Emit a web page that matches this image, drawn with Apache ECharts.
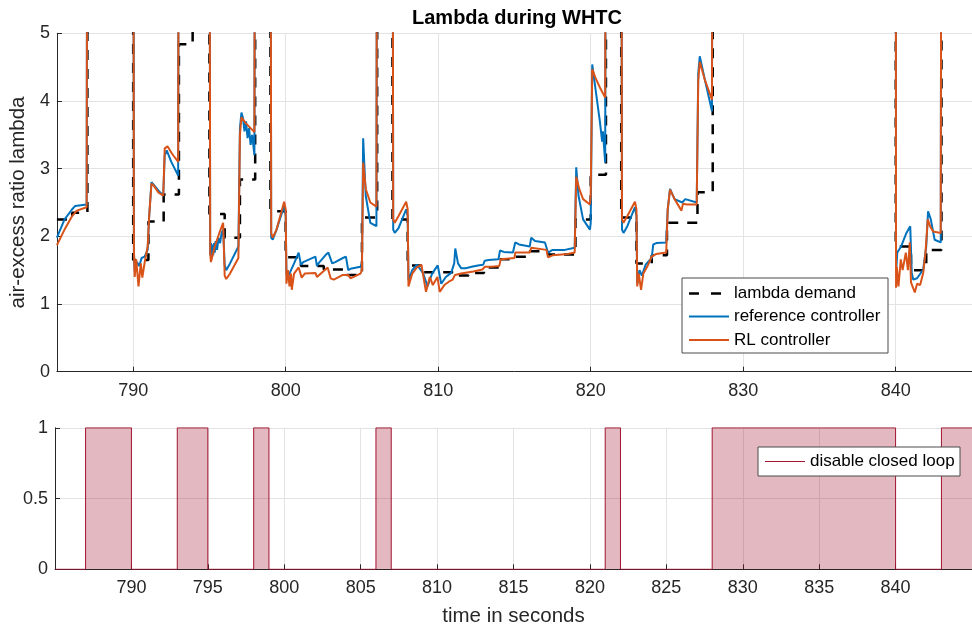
<!DOCTYPE html>
<html>
<head>
<meta charset="utf-8">
<script src="https://cdn.jsdelivr.net/npm/echarts@6/dist/echarts.min.js"></script>
<style>html,body{margin:0;padding:0;background:#fff;}#c{width:972px;height:633px;}</style>
</head>
<body>
<div id="c"></div>
<script>
// ---- data (time in s, value) ----
const demand = [
  [785.0,2.25],[786.0,2.35],[787.0,10],[790.0,1.65],[791.0,2.22],[792.0,2.62],[793.0,4.84],[793.9,10],
  [795.0,2.33],[796.0,1.98],[797.0,2.84],[798.0,10],[799.0,2.37],[800.0,1.69],[801.0,1.56],[802.5,1.51],
  [803.8,1.43],[805.0,2.28],[806.0,10],[807.0,2.25],[808.0,1.57],[809.0,1.47],[811.0,1.42],[812.0,1.46],
  [813.0,1.54],[814.0,1.66],[815.0,1.70],[816.0,1.78],[817.2,1.73],[819.0,2.25],[820.0,2.91],[821.0,10],
  [822.0,2.28],[823.0,1.60],[824.0,1.72],[825.0,2.20],[827.0,2.65],[828.0,10],[840.0,1.85],[841.0,1.50],
  [842.0,1.80],[843.0,10],[845.0,10]
];
const refCtrl = [
  [785.0,1.98],[785.5,2.25],[786.0,2.40],[786.2,2.45],[786.95,2.47],[787.0,10],
  [790.0,10],[790.05,1.75],[790.1,1.48],[790.25,1.62],[790.4,1.56],[790.55,1.68],[790.75,1.70],[790.95,1.80],
  [791.05,2.30],[791.2,2.80],[791.35,2.76],[791.65,2.68],[791.97,2.60],[792.07,3.20],[792.2,3.27],[792.5,3.10],[792.95,2.90],[793.0,10],
  [795.0,10],[795.05,1.72],[795.1,1.90],[795.15,1.70],[795.2,1.88],[795.25,1.72],[795.3,1.90],[795.35,1.76],[795.4,1.93],
  [795.5,1.80],[795.6,1.98],[795.7,1.90],[795.8,2.05],[795.9,2.10],[796.0,1.58],[796.1,1.50],[796.35,1.60],[796.9,1.85],
  [797.0,3.60],[797.1,3.83],[797.2,3.75],[797.3,3.55],[797.4,3.70],[797.5,3.45],[797.6,3.60],[797.7,3.35],[797.8,3.50],[797.95,3.20],[798.0,10],
  [799.0,10],[799.05,1.98],[799.15,1.95],[799.4,2.10],[799.9,2.45],[800.0,2.30],[800.05,1.45],[800.15,1.40],[800.35,1.50],
  [800.55,1.60],[800.85,1.76],[801.0,1.58],[801.15,1.62],[801.95,1.70],[802.05,1.56],[802.15,1.60],[802.6,1.72],[802.8,1.76],
  [803.05,1.60],[803.25,1.62],[803.75,1.68],[803.95,1.70],[804.1,1.50],[804.25,1.52],[804.9,1.55],[805.0,1.60],
  [805.08,3.45],[805.25,2.60],[805.55,2.20],[805.95,2.15],[806.0,10],
  [807.0,10],[807.05,2.10],[807.15,2.05],[807.4,2.12],[807.9,2.40],[808.0,2.30],[808.05,1.35],[808.3,1.50],[808.6,1.58],
  [809.0,1.46],[809.3,1.26],[809.6,1.45],[809.97,1.57],[810.2,1.30],[810.5,1.40],[810.85,1.46],[811.05,1.60],[811.12,1.82],
  [811.3,1.60],[811.5,1.53],[811.8,1.53],[812.2,1.55],[812.6,1.57],[812.95,1.58],[813.05,1.64],[813.3,1.65],[813.95,1.66],
  [814.05,1.79],[814.3,1.77],[814.9,1.76],[815.05,1.91],[815.3,1.88],[816.0,1.85],[816.1,1.98],[816.35,1.93],[817.0,1.91],
  [817.2,1.76],[817.5,1.80],[818.3,1.80],[818.95,1.83],[819.05,3.02],[819.2,2.60],[819.5,2.25],[819.95,2.10],[820.0,2.20],
  [820.1,4.54],[820.3,4.20],[820.6,3.70],[820.75,3.40],[820.8,3.55],[820.95,3.09],[821.0,10],
  [822.0,10],[822.05,2.10],[822.15,2.05],[822.4,2.15],[822.9,2.43],[823.0,2.30],[823.05,1.30],[823.2,1.50],[823.35,1.42],
  [823.6,1.58],[824.0,1.68],[824.1,1.88],[824.3,1.90],[824.95,1.91],[825.05,2.40],[825.2,2.70],[825.5,2.55],[826.0,2.50],
  [826.2,2.55],[826.95,2.50],[827.05,4.40],[827.15,4.66],[827.5,4.30],[827.95,3.85],[828.0,10],
  [840.0,10],[840.02,1.46],[840.1,1.76],[840.35,1.85],[840.7,2.05],[840.95,2.15],[841.05,1.46],[841.15,1.36],[841.4,1.38],
  [841.8,1.51],[842.0,1.85],[842.12,2.37],[842.3,2.25],[842.55,1.95],[842.95,1.91],[843.0,10],[845.0,10]
];
const rlCtrl = [
  [785.0,1.87],[785.5,2.10],[786.0,2.30],[786.3,2.38],[786.95,2.43],[787.0,10],
  [790.0,10],[790.05,1.80],[790.1,1.40],[790.2,1.66],[790.35,1.26],[790.5,1.60],[790.6,1.39],[790.75,1.61],[790.95,1.85],
  [791.05,2.30],[791.2,2.78],[791.35,2.75],[791.65,2.65],[791.97,2.60],[792.07,3.30],[792.25,3.33],[792.55,3.22],[792.95,3.10],[793.0,10],
  [795.0,10],[795.05,1.75],[795.1,1.62],[795.35,1.85],[795.65,2.05],[795.9,2.20],[796.0,1.42],[796.1,1.37],[796.35,1.45],
  [796.9,1.68],[797.0,3.50],[797.1,3.76],[797.35,3.68],[797.95,3.54],[798.0,10],
  [799.0,10],[799.05,2.05],[799.15,1.98],[799.4,2.10],[799.9,2.51],[800.0,2.40],[800.05,1.30],[800.15,1.50],[800.25,1.26],
  [800.35,1.45],[800.4,1.21],[800.55,1.45],[800.85,1.54],[801.05,1.39],[801.25,1.45],[801.95,1.46],[802.05,1.40],[802.55,1.50],
  [802.75,1.54],[802.95,1.38],[803.15,1.36],[803.75,1.43],[804.1,1.43],[804.25,1.38],[804.9,1.45],[805.0,1.50],
  [805.08,3.09],[805.25,2.70],[805.55,2.50],[805.95,2.44],[806.0,10],
  [807.0,10],[807.05,2.25],[807.15,2.20],[807.4,2.30],[807.9,2.51],[808.0,2.40],[808.05,1.26],[808.3,1.45],[808.6,1.54],
  [808.9,1.58],[809.2,1.18],[809.45,1.40],[809.65,1.28],[809.95,1.40],[810.1,1.18],[810.4,1.28],[810.7,1.33],[810.95,1.36],
  [811.1,1.43],[811.5,1.45],[812.3,1.48],[812.9,1.51],[813.05,1.55],[813.5,1.55],[814.0,1.56],[814.1,1.66],[815.0,1.68],
  [815.05,1.76],[816.0,1.76],[816.1,1.83],[817.1,1.80],[817.2,1.69],[817.5,1.72],[818.5,1.74],[818.95,1.76],
  [819.05,2.88],[819.25,2.70],[819.5,2.55],[819.95,2.47],[820.0,2.60],[820.1,4.47],[820.3,4.35],[820.6,4.20],[820.95,4.05],[821.0,10],
  [822.0,10],[822.05,2.25],[822.15,2.20],[822.4,2.30],[822.9,2.51],[823.0,2.40],[823.05,1.26],[823.15,1.45],[823.3,1.21],
  [823.45,1.45],[823.7,1.55],[824.0,1.70],[824.3,1.74],[824.95,1.76],[825.05,2.40],[825.2,2.69],[825.5,2.55],[825.95,2.38],
  [826.05,2.48],[826.3,2.47],[826.95,2.47],[827.05,4.30],[827.15,4.58],[827.5,4.30],[827.95,4.02],[828.0,10],
  [840.0,10],[840.02,1.24],[840.07,1.55],[840.18,1.26],[840.33,1.66],[840.45,1.50],[840.66,1.76],[840.8,1.50],[840.92,1.91],
  [841.0,1.32],[841.1,1.26],[841.25,1.17],[841.4,1.30],[841.6,1.28],[841.8,1.46],[841.95,1.76],[842.1,2.25],[842.25,2.15],
  [842.45,2.07],[842.95,2.05],[843.0,10],[845.0,10]
];
const disableT = [785, 787, 790, 793, 795, 798, 799, 806, 807, 821, 822, 828, 840, 843, 845];
const disableV = [0, 1, 0, 1, 0, 1, 0, 1, 0, 1, 0, 1, 0, 1, 1];
const yTicksTop = [0, 1, 2, 3, 4, 5];
const yTicksBottom = [0, 0.5, 1];
const topLegendNames = ['lambda demand', 'reference controller', 'RL controller'];
const bottomLegendNames = ['disable closed loop'];

// ---- chart ----
const FONT = '"Liberation Sans", Arial, sans-serif';
const AX = '#262626';
const GRIDC = '#e3e3e3';
const C_DEM = '#000000', C_REF = '#0072BD', C_RL = '#D95319', C_DIS = '#A2142F';
const DASH = [10, 9];
const chart = echarts.init(document.getElementById('c'), null, {renderer: 'canvas'});

function xAxisCfg(grid, split, extra) {
  return Object.assign({
    type: 'value', gridIndex: grid, min: 785, max: 845, splitNumber: split,
    axisLine: {show: true, lineStyle: {color: AX, width: 1}},
    axisTick: {show: true, inside: true, length: 5, lineStyle: {color: AX}},
    axisLabel: {show: true, color: AX, fontSize: 18, fontFamily: FONT, margin: 10, showMinLabel: false, showMaxLabel: false},
    splitLine: {show: true, lineStyle: {color: GRIDC, width: 1}}
  }, extra || {});
}
function yAxisCfg(grid, ticks, extra) {
  return Object.assign({
    type: 'value', gridIndex: grid, min: ticks[0], max: ticks[ticks.length - 1], interval: ticks[1] - ticks[0],
    axisLine: {show: true, lineStyle: {color: AX, width: 1}},
    axisTick: {show: true, inside: true, length: 5, lineStyle: {color: AX}},
    axisLabel: {show: true, color: AX, fontSize: 18, fontFamily: FONT, margin: 7},
    splitLine: {show: true, lineStyle: {color: GRIDC, width: 1}}
  }, extra || {});
}

// legend drawn as graphic elements (line samples without markers), above the plot
function legendItems(x, y, w, h, items, rowY) {
  const els = [{
    type: 'rect', z: 100, shape: {x: x, y: y, width: w, height: h},
    style: {fill: '#fff', stroke: '#4a4a4a', lineWidth: 1}
  }];
  items.forEach((it, i) => {
    els.push({
      type: 'line', z: 101, shape: {x1: x + 7, y1: rowY[i], x2: x + 47, y2: rowY[i]},
      style: {stroke: it.color, lineWidth: it.width, lineDash: it.dash || null}
    });
    els.push({
      type: 'text', z: 101, x: x + 52, y: rowY[i],
      style: {text: it.name, font: '17px ' + FONT, fill: '#000', verticalAlign: 'middle', align: 'left'}
    });
  });
  return els;
}

const option = {
  animation: false,
  backgroundColor: '#fff',
  graphic: [
    {type: 'text', x: 517, y: 18, z: 100,
      style: {text: 'Lambda during WHTC', font: 'bold 20px ' + FONT, fill: '#000', align: 'center', verticalAlign: 'middle'}}
  ].concat(
    legendItems(682, 278, 206, 75, [
      {name: topLegendNames[0], color: C_DEM, width: 2.5, dash: [10, 12]},
      {name: topLegendNames[1], color: C_REF, width: 2},
      {name: topLegendNames[2], color: C_RL, width: 2}
    ], [293.5, 316.5, 340]),
    legendItems(758, 447, 202, 29, [
      {name: bottomLegendNames[0], color: C_DIS, width: 1}
    ], [461.5])
  ),
  grid: [
    {left: 55, width: 924, top: 33.3, height: 338.4},
    {left: 55, width: 924, top: 427.8, height: 141.5}
  ],
  xAxis: [
    xAxisCfg(0, 6),
    xAxisCfg(1, 12, {name: 'time in seconds', nameLocation: 'middle', nameGap: 37,
      nameTextStyle: {color: AX, fontSize: 20.5, fontFamily: FONT}})
  ],
  yAxis: [
    yAxisCfg(0, yTicksTop, {name: 'air-excess ratio lambda', nameLocation: 'middle', nameGap: 24,
      nameTextStyle: {color: AX, fontSize: 20.5, fontFamily: FONT}}),
    yAxisCfg(1, yTicksBottom)
  ],
  series: [
    {name: topLegendNames[0], type: 'line', xAxisIndex: 0, yAxisIndex: 0, data: demand, step: 'end',
      symbol: 'none', lineStyle: {color: C_DEM, width: 2.5, type: DASH}, itemStyle: {color: C_DEM}},
    {name: topLegendNames[1], type: 'line', xAxisIndex: 0, yAxisIndex: 0, data: refCtrl,
      symbol: 'none', lineStyle: {color: C_REF, width: 2}, itemStyle: {color: C_REF}},
    {name: topLegendNames[2], type: 'line', xAxisIndex: 0, yAxisIndex: 0, data: rlCtrl,
      symbol: 'none', lineStyle: {color: C_RL, width: 2}, itemStyle: {color: C_RL}},
    {name: bottomLegendNames[0], type: 'line', xAxisIndex: 1, yAxisIndex: 1,
      data: disableT.map((t, i) => [t, disableV[i]]), step: 'end', symbol: 'none',
      lineStyle: {color: C_DIS, width: 1}, itemStyle: {color: C_DIS},
      areaStyle: {color: 'rgba(162,20,47,0.3)', opacity: 1, origin: 'start'}}
  ]
};
chart.setOption(option);
</script>
</body>
</html>
